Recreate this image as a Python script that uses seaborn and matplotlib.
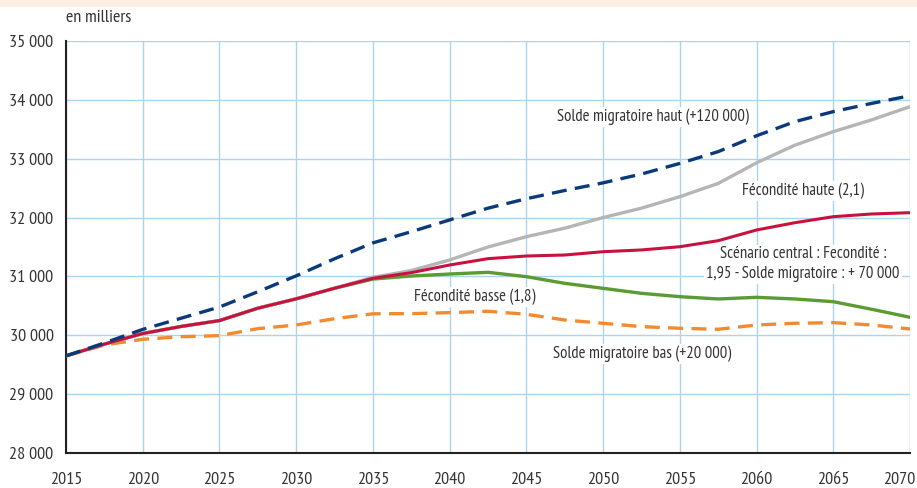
import matplotlib
matplotlib.use("Agg")
import matplotlib.pyplot as plt
import matplotlib.ticker as mticker
import matplotlib.transforms as mtransforms
from matplotlib import font_manager as fm
import seaborn as sns
import pandas as pd

years = [2015, 2017.5, 2020, 2022.5, 2025, 2027.5, 2030, 2032.5, 2035, 2037.5, 2040, 2042.5,
         2045, 2047.5, 2050, 2052.5, 2055, 2057.5, 2060, 2062.5, 2065, 2067.5, 2070]

solde_haut = [29650, 29870, 30100, 30290, 30480, 30740, 31010, 31300, 31570, 31760, 31960, 32160,
              32320, 32460, 32590, 32740, 32920, 33120, 33390, 33630, 33800, 33940, 34070]
central = [29650, 29850, 30030, 30150, 30250, 30460, 30620, 30800, 30985, 31100, 31280, 31500,
           31675, 31820, 32000, 32160, 32355, 32580, 32930, 33230, 33460, 33660, 33885]
fec_haute = [29650, 29850, 30030, 30150, 30250, 30460, 30620, 30800, 30968, 31064, 31194, 31302,
             31347, 31364, 31420, 31450, 31505, 31607, 31789, 31913, 32015, 32061, 32083]
fec_basse = [29650, 29850, 30030, 30150, 30250, 30460, 30617, 30798, 30955, 31007, 31041, 31070,
             30996, 30883, 30798, 30713, 30656, 30617, 30645, 30617, 30571, 30442, 30306]
solde_bas = [29650, 29835, 29932, 29976, 29994, 30113, 30175, 30282, 30365, 30368, 30385, 30408,
             30357, 30260, 30204, 30147, 30119, 30102, 30175, 30204, 30215, 30175, 30107]

x_ticks = [2015, 2020, 2025, 2030, 2035, 2040, 2045, 2050, 2055, 2060, 2065, 2070]
y_ticks = [28000, 29000, 30000, 31000, 32000, 33000, 34000, 35000]

labels = {
    "haut": "Solde migratoire haut (+120 000)",
    "fh": "Fécondité haute (2,1)",
    "central": "Scénario central : Fecondité :\n1,95 - Solde migratoire : + 70 000",
    "fb": "Fécondité basse (1,8)",
    "bas": "Solde migratoire bas (+20 000)",
}

sns.set_theme(style="white")
available = set(f.name for f in fm.fontManager.ttflist)
cands = ["Liberation Sans Narrow", "Arial Narrow", "Arimo Narrow", "PT Sans Narrow",
         "Roboto Condensed", "Archivo Narrow", "Liberation Sans"]
fam = [c for c in cands if c in available][:1] + ["DejaVu Sans"]
plt.rcParams["font.family"] = fam

TXT = "#333333"
GRID = "#aad4f0"

fig = plt.figure(figsize=(9.17, 4.88), dpi=100)
ax = fig.add_axes([66 / 917, 1 - 453 / 488, (910 - 66) / 917, (453 - 41) / 488])

fig.patches.append(plt.Rectangle((0, 1 - 7 / 488), 1, 7 / 488, transform=fig.transFigure,
                                 facecolor="#fdeee3", edgecolor="none", zorder=0))

series = [
    (solde_bas, "#f28b30", (0, (4.5, 2.5)), 2.4, 2),
    (fec_basse, "#5a9b32", "-", 2.4, 3),
    (central, "#b5b5b5", "-", 2.4, 4),
    (fec_haute, "#c8113f", "-", 2.2, 5),
    (solde_haut, "#0a3a7a", (0, (4.5, 2.5)), 2.4, 6),
]
for vals, col, ls, lw, z in series:
    df = pd.DataFrame({"year": years, "value": vals})
    sns.lineplot(data=df, x="year", y="value", ax=ax, color=col, linewidth=lw,
                 linestyle=ls, zorder=z)

ax.set_xlim(2015, 2070)
ax.set_ylim(28000, 35000)
ax.set_xticks(x_ticks)
ax.set_yticks(y_ticks)
ax.yaxis.set_major_formatter(mticker.FuncFormatter(lambda v, p: f"{int(v):,}".replace(",", " ")))
ax.set_xlabel("")
ax.set_ylabel("")
ax.grid(True, color=GRID, linewidth=1.0)
ax.set_axisbelow(True)
for s in ["top", "right"]:
    ax.spines[s].set_visible(False)
for s in ["left", "bottom"]:
    ax.spines[s].set_color("#222222")
    ax.spines[s].set_linewidth(1.5)
ax.tick_params(axis="both", length=0, labelsize=13, colors=TXT)
ax.tick_params(axis="y", pad=9)
ax.tick_params(axis="x", pad=14)

# shift last x tick label left so it stays inside the figure
last = ax.get_xticklabels()[-1]
last.set_transform(last.get_transform() +
                   mtransforms.ScaledTranslation(-11 / 100, 0, fig.dpi_scale_trans))

fig.text(66 / 917, 1 - 18 / 488, "en milliers", ha="left", va="center", fontsize=13, color=TXT)

bbox = dict(facecolor="white", edgecolor="none", pad=1.5)


def lab(px, py, s, ha="center"):
    fig.text(px / 917, 1 - py / 488, s, ha=ha, va="center", fontsize=12, color=TXT,
             bbox=bbox, zorder=10, linespacing=1.25, multialignment="center")


lab(653, 117, labels["haut"])
lab(803, 191, labels["fh"])
lab(803, 264, labels["central"])
lab(475, 297, labels["fb"])
lab(642, 354, labels["bas"])

fig.savefig("out.png", dpi=100)
